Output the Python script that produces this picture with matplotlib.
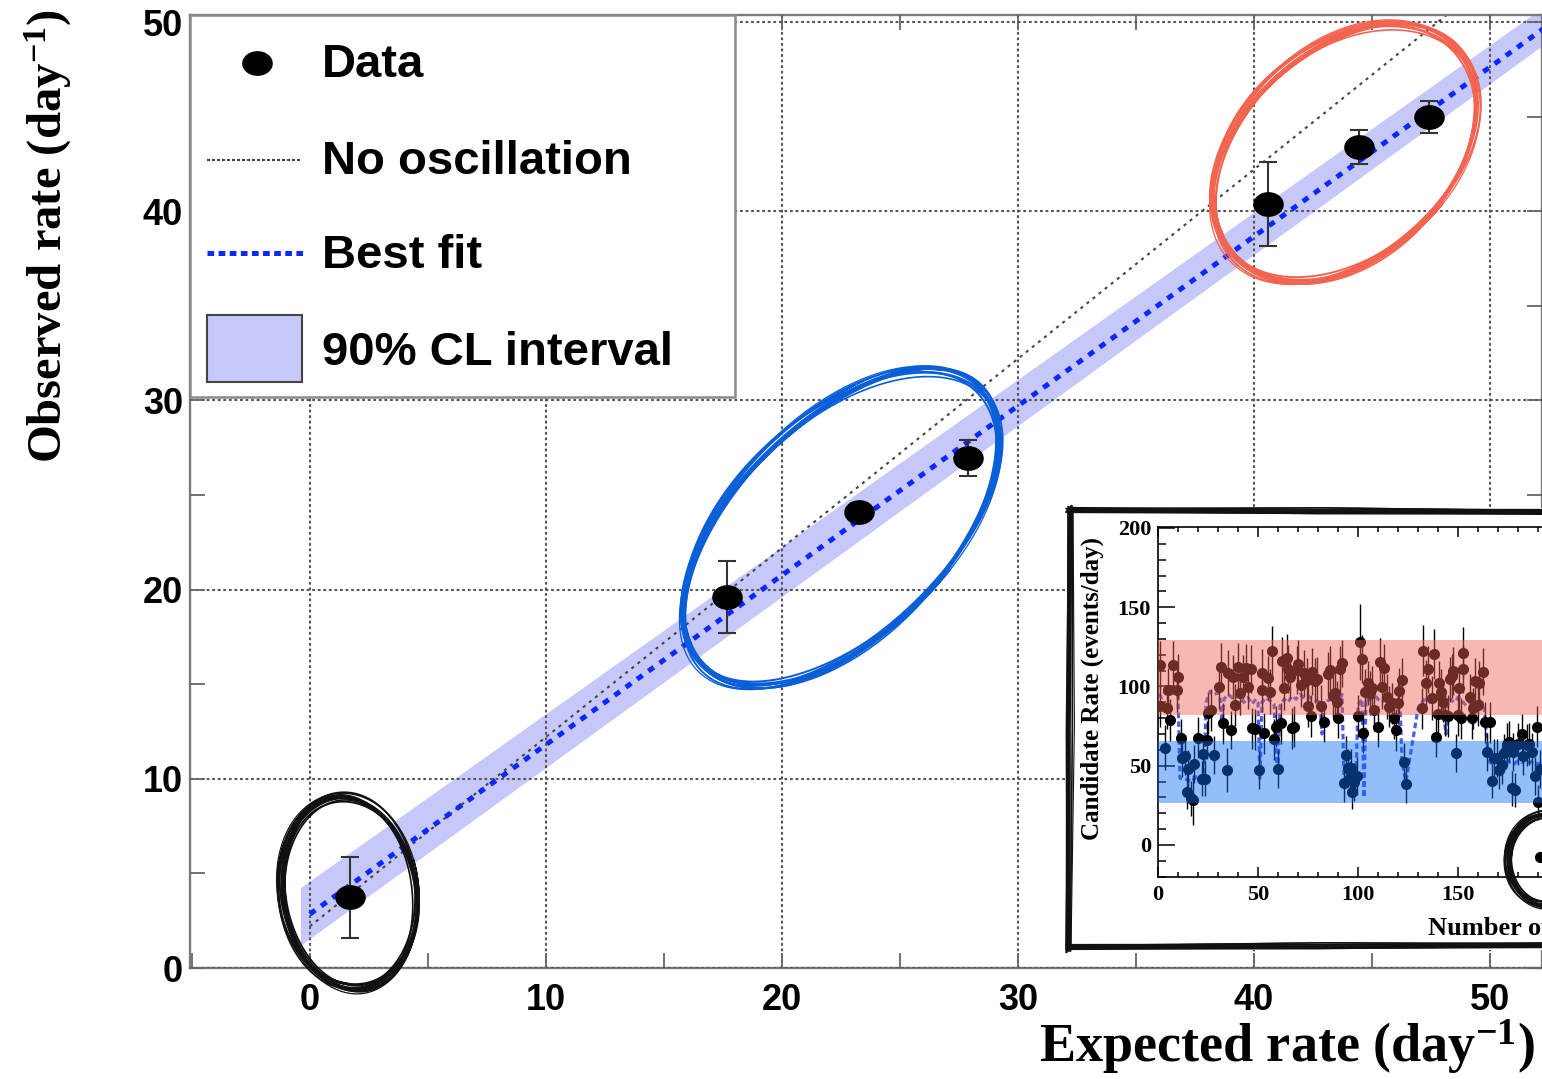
import numpy as np
import matplotlib
matplotlib.use("Agg")
import matplotlib.pyplot as plt
from matplotlib.lines import Line2D
from matplotlib.patches import Rectangle
from matplotlib.path import Path
from matplotlib.ticker import MultipleLocator

plt.rcParams["font.family"] = ["Liberation Sans", "DejaVu Sans"]
plt.rcParams["font.weight"] = "bold"
plt.rcParams["mathtext.fontset"] = "custom"
plt.rcParams["mathtext.rm"] = "Liberation Serif"
plt.rcParams["mathtext.bf"] = "Liberation Serif:bold"
plt.rcParams["mathtext.it"] = "Liberation Serif:italic"
plt.rcParams["lines.scale_dashes"] = False

# ---------------- main panel: observed vs expected rate ----------------
expected_rate = [1.69, 17.67, 23.26, 27.88, 40.59, 44.45, 47.42]
observed_rate = [3.75, 19.61, 24.10, 26.96, 40.38, 43.39, 44.98]
observed_err = [2.14, 1.90, 0.50, 0.95, 2.20, 0.90, 0.85]

noosc_x = [0.0, 52.5]
noosc_y = [2.2, 54.7]
fit_x = [0.0, 52.5]
fit_y = [2.85, 49.85]
band_x = [-0.4, 52.5]
band_lo = [1.2, 49.0]
band_hi = [4.25, 51.0]

main_xticks = [0, 10, 20, 30, 40, 50]
main_yticks = [0, 10, 20, 30, 40, 50]
legend_labels = ["Data", "No oscillation", "Best fit", "90% CL interval"]

# ---------------- inset: daily candidate rate ----------------
inset_day = [
    1.0, 1.0, 3.5, 4.3, 5.0, 6.0, 7.3, 9.3, 10.2, 11.3,
    11.8, 13.5, 14.3, 15.2, 16.5, 17.3, 18.2, 20.2, 21.8, 22.3,
    23.5, 24.3, 25.2, 26.5, 28.2, 30.5, 31.3, 32.3, 34.3, 35.2,
    36.5, 37.3, 38.5, 40.2, 41.0, 42.7, 44.0, 45.2, 46.3, 46.8,
    48.5, 50.7, 51.8, 52.2, 53.2, 55.2, 56.0, 57.2, 58.2, 58.8,
    60.2, 61.3, 62.2, 63.2, 64.3, 65.2, 66.0, 67.2, 68.2, 69.3,
    70.2, 71.3, 73.2, 74.3, 75.2, 76.3, 77.2, 78.5, 79.3, 81.3,
    83.0, 84.8, 86.0, 87.3, 88.5, 89.3, 90.2, 91.0, 91.8, 93.2,
    93.8, 95.2, 96.0, 96.3, 97.2, 98.0, 99.3, 99.8, 101.0, 101.8,
    102.7, 103.5, 104.8, 106.0, 106.8, 108.2, 109.8, 111.0, 111.8, 113.2,
    114.3, 115.5, 116.8, 118.0, 118.8, 119.8, 120.7, 121.8, 123.0, 123.8,
    131.8, 132.7, 133.8, 134.8, 136.8, 137.8, 138.8, 139.8, 140.7, 141.5,
    142.7, 143.5, 144.8, 146.0, 146.8, 147.7, 148.8, 150.2, 150.7, 151.5,
    152.7, 152.7, 156.0, 156.8, 157.7, 158.5, 159.8, 160.5, 162.7, 163.5,
    164.7, 166.0, 166.8, 168.2, 169.3, 170.7, 171.8, 173.2, 174.7, 175.7,
    176.8, 177.7, 178.5, 179.8, 181.8, 182.7, 184.3, 185.5, 187.2, 188.5,
    189.3, 190.2, 191.0,
]
inset_rate = [
    113.6, 87.7, 61.4, 86.2, 97.8, 78.9, 113.6, 97.8, 106.2, 67.3,
    54.7, 56.4, 33.7, 48.0, 29.5, 28.4, 50.9, 67.7, 41.7, 57.2,
    41.7, 66.3, 83.1, 85.2, 56.8, 99.9, 112.5, 76.8, 47.3, 108.7,
    72.6, 105.8, 88.3, 112.5, 95.7, 105.8, 111.9, 99.9, 111.0, 73.6,
    73.0, 47.3, 108.7, 97.8, 70.5, 105.2, 96.8, 122.4, 66.7, 74.7,
    47.7, 76.8, 116.1, 98.9, 117.8, 111.1, 105.8, 73.6, 74.7, 110.4,
    114.2, 101.0, 108.3, 104.1, 87.7, 81.4, 109.4, 103.7, 104.8, 87.7,
    77.8, 107.7, 110.4, 94.0, 95.7, 90.4, 80.4, 110.8, 114.6, 39.3,
    56.8, 48.4, 42.1, 48.4, 33.7, 40.0, 43.6, 81.4, 128.3, 117.2,
    70.9, 96.8, 102.0, 95.7, 98.9, 85.2, 74.7, 115.7, 99.9, 111.5,
    93.6, 87.3, 89.4, 79.9, 72.6, 89.4, 97.4, 104.1, 52.6, 38.5,
    86.2, 122.6, 102.4, 110.8, 92.6, 120.5, 68.4, 82.5, 102.0, 96.8,
    90.4, 82.0, 81.4, 104.5, 106.6, 109.8, 58.3, 82.0, 98.9, 79.9,
    121.4, 111.1, 93.6, 79.9, 86.2, 103.7, 88.3, 102.0, 109.4, 77.4,
    58.5, 77.4, 40.6, 54.7, 54.7, 47.3, 50.5, 57.8, 63.7, 65.2,
    35.8, 58.5, 34.7, 63.7, 69.8, 56.4, 63.1, 63.7, 58.9, 43.8,
    74.7, 26.9, 48.0,
]
inset_err = [
    15, 13, 14, 13, 14, 13, 15, 14, 14, 12,
    12, 12, 11, 12, 11, 16, 12, 13, 11, 12,
    11, 12, 13, 13, 12, 14, 15, 13, 14, 14,
    12, 14, 13, 15, 14, 14, 15, 14, 15, 13,
    13, 12, 15, 14, 13, 14, 14, 16, 13, 13,
    12, 13, 15, 14, 15, 15, 14, 13, 13, 15,
    15, 14, 15, 14, 13, 13, 15, 14, 14, 13,
    13, 14, 15, 14, 14, 13, 13, 15, 15, 12,
    12, 12, 11, 12, 11, 12, 12, 13, 24, 15,
    13, 14, 14, 14, 14, 13, 13, 15, 14, 15,
    14, 13, 13, 13, 13, 13, 14, 14, 12, 12,
    13, 16, 14, 15, 14, 16, 13, 13, 14, 14,
    13, 13, 13, 14, 14, 15, 12, 13, 14, 13,
    16, 15, 14, 13, 13, 14, 13, 14, 15, 13,
    12, 13, 11, 12, 12, 12, 12, 12, 13, 13,
    11, 12, 11, 13, 13, 12, 13, 13, 12, 12,
    13, 11, 12,
]
flagged_day = [191.0]
flagged_rate = [-7.4]

exp_day = [0, 2, 4, 6, 8, 10, 11, 13, 15, 17, 19, 21, 23,
           24, 26, 28, 30, 31, 32, 33, 35, 37, 39, 41, 43, 45, 47, 49, 50,
           51, 52, 54, 56, 58, 59, 60, 61,
           63, 65, 67, 69, 71, 73, 75, 77, 79, 81, 82, 83, 85, 87, 89, 91, 92,
           93, 95, 97, 99, 100, 102, 103, 104,
           106, 108, 110, 112, 114, 116, 118, 120, 121, 122, 124,
           130, 132, 134, 136, 138, 140, 142, 144, 145, 146, 148, 150, 152, 154,
           156, 158, 160, 162, 163,
           165, 166, 168, 170, 172, 174, 176, 178, 180, 182, 184, 186, 188, 190, 192]
exp_rate = [95, 93, 97, 95, 96, 95, 42, 42, 41, 40, 43, 42, 42,
            90, 97, 95, 96, 94, 75, 92, 95, 93, 95, 92, 90, 93, 89, 92, 90,
            42, 90, 93, 91, 89, 55, 48, 88,
            92, 90, 94, 92, 95, 93, 94, 92, 91, 90, 70, 88, 91, 93, 90, 92, 95,
            42, 43, 40, 44, 88, 92, 30, 93,
            90, 95, 92, 90, 93, 90, 88, 91, 90, 52, 40,
            86, 90, 93, 90, 92, 94, 91, 70, 90, 92, 90, 93, 91, 88,
            90, 87, 92, 90, 88,
            58, 52, 51, 53, 50, 54, 52, 51, 53, 52, 54, 52, 53, 51, 52]

high_band = [82.0, 129.5]
low_band = [26.7, 65.7]
inset_xticks = [0, 50, 100, 150]
inset_yticks = [0, 50, 100, 150, 200]

# ---------------- figure ----------------
W, H = 1542, 1079
fig = plt.figure(figsize=(W / 100, H / 100), dpi=100)
fig.patch.set_facecolor("white")


def fx(px):
    return px / W


def fy(py):
    return 1 - py / H


BAND_COLOR = "#c6c8fa"
FIT_COLOR = "#0a28ff"
GRID_COLOR = "#555555"
SPINE_COLOR = "#7a7a7a"

ax = fig.add_axes([fx(190), fy(968), 1352 / W, 953 / H], zorder=0)
ax.set_xlim(-5.08, 52.21)
ax.set_ylim(0, 50.37)

ax.fill_between(band_x, band_lo, band_hi, color=BAND_COLOR, lw=0, zorder=1)
ax.plot(noosc_x, noosc_y, color="#444444", lw=1.5, dashes=(2.2, 3.4), zorder=2)
ax.plot(fit_x, fit_y, color=FIT_COLOR, lw=3.6, dashes=(4.8, 5.2), zorder=3)

t = np.linspace(0, 2 * np.pi, 64)
oval = Path(np.column_stack([1.25 * np.cos(t), np.sin(t)]), closed=True)
ax.errorbar(expected_rate, observed_rate, yerr=observed_err, fmt="none",
            ecolor="#333333", elinewidth=1.5, capsize=6.5, capthick=1.5, zorder=4)
ax.plot(expected_rate, observed_rate, ls="none", marker=oval, ms=21,
        color="black", zorder=5)

ax.set_xticks(main_xticks)
ax.set_yticks(main_yticks)
ax.xaxis.set_minor_locator(MultipleLocator(5))
ax.yaxis.set_minor_locator(MultipleLocator(5))
ax.grid(True, which="major", color=GRID_COLOR, lw=1.5, linestyle=(0, (2.0, 2.0)))
ax.set_axisbelow(False)
ax.tick_params(which="both", direction="in", top=True, right=True,
               length=11, width=1.3, color="#666666", labelsize=26)
ax.tick_params(axis="x", pad=11)
ax.tick_params(axis="y", pad=5)
for sp in ax.spines.values():
    sp.set_color(SPINE_COLOR)
    sp.set_linewidth(1.7)

ax.set_xlabel(r"Expected rate (day$^{\mathbf{-1}}$)", family="Liberation Serif",
              fontsize=39, fontweight="bold")
ax.xaxis.set_label_coords(fx(1535), fy(1062), transform=fig.transFigure)
ax.xaxis.label.set_ha("right")
ax.xaxis.label.set_va("baseline")
ax.set_ylabel(r"Observed rate (day$^{\mathbf{-1}}$)", family="Liberation Serif",
              fontsize=35, fontweight="bold")
ax.yaxis.set_label_coords(fx(48), fy(236), transform=fig.transFigure)
ax.yaxis.label.set_ha("center")
ax.yaxis.label.set_va("center")

# ---------------- legend box ----------------
fig.add_artist(Rectangle((fx(190), fy(397)), fx(735) - fx(190), (397 - 15) / H,
                         transform=fig.transFigure, facecolor="white",
                         edgecolor="#8a8a8a", lw=1.8, zorder=1))
fig.add_artist(Line2D([fx(257)], [fy(63)], ls="none", marker=oval, ms=21,
                      color="black", transform=fig.transFigure, zorder=2))
fig.add_artist(Line2D([fx(207), fx(300)], [fy(160), fy(160)], color="#444444",
                      lw=1.5, dashes=(2.2, 1.4), transform=fig.transFigure, zorder=2))
fig.add_artist(Line2D([fx(207), fx(303)], [fy(253), fy(253)], color=FIT_COLOR,
                      lw=3.6, dashes=(4.8, 3.2), transform=fig.transFigure, zorder=2))
fig.add_artist(Rectangle((fx(207), fy(382)), fx(302) - fx(207), (382 - 315) / H,
                         transform=fig.transFigure, facecolor=BAND_COLOR,
                         edgecolor="#444444", lw=1.5, zorder=2))
for label, base in zip(legend_labels, [77, 174, 268, 365]):
    fig.text(fx(322), fy(base), label, fontsize=34, fontweight="bold",
             ha="left", va="baseline", zorder=3)


# ---------------- hand-drawn marks ----------------
def sketch_ellipse(cx, cy_top, a, b, ang, color, z, strokes, scale=1.0):
    cy = H - cy_top
    th = np.deg2rad(ang)
    for da, db, dth, ox, oy, t0, lw in strokes:
        tt = np.linspace(t0, t0 + 2 * np.pi + 0.35, 500)
        wob = 1 + 0.012 * np.sin(3 * tt + t0)
        aa = (a + da * scale) * wob
        bb = (b + db * scale) * wob
        th2 = th + np.deg2rad(dth)
        x = cx + ox + aa * np.cos(tt) * np.cos(th2) - bb * np.sin(tt) * np.sin(th2)
        y = cy + oy + aa * np.cos(tt) * np.sin(th2) + bb * np.sin(tt) * np.cos(th2)
        fig.add_artist(Line2D(x / W, y / H, transform=fig.transFigure, color=color,
                              lw=lw, zorder=z, solid_capstyle="round"))


STROKES = [(0, 0, 0, 0, 0, 0.4, 2.4), (2, -1.5, 0.8, 1, -1, 1.3, 1.8),
           (-2, 1.5, -0.7, -1, 1, 2.6, 1.8), (3.5, 1, 0.4, 0.5, 1.5, 3.9, 1.4),
           (-3, -2, -0.4, 1, 0.5, 5.2, 1.4), (1, 2.5, 1.2, -1.5, -0.5, 0.9, 1.2),
           (-1, -3, -1.0, 0.5, -1.5, 3.3, 1.2), (4, 3, 0.2, -0.5, 0.5, 4.6, 0.9)]

sketch_ellipse(349, 893, 96, 67, 98, "#111111", 12, STROKES, scale=1.2)
sketch_ellipse(841, 528, 196, 107, 45, "#0a5fd8", 12, STROKES)
sketch_ellipse(1345, 153, 152, 104, 43, "#f26450", 12, STROKES)

# ---------------- inset panel ----------------
fig.add_artist(Rectangle((fx(1068), fy(950)), fx(1570) - fx(1068), (950 - 508) / H,
                         transform=fig.transFigure, facecolor="white",
                         edgecolor="none", zorder=9))
frame_edges = [((1068, 510), (1570, 512)), ((1070, 508), (1068, 950)),
               ((1068, 947), (1570, 945))]
frame_offsets = [(0, 0, 2.6), (1.5, -2.0, 1.6), (-1.5, 2.0, 1.6),
                 (2.5, 1.0, 1.2), (-2.0, -1.5, 1.0), (3.0, -1.0, 0.8)]
for (x0, y0), (x1, y1) in frame_edges:
    for k, (ox, oy, lw) in enumerate(frame_offsets):
        xm = (x0 + x1) / 2 + (k - 2) * 0.8
        ym = (y0 + y1) / 2 + (2 - k) * 0.8
        xs = [x0 + ox, xm + ox, x1 + ox]
        ys = [y0 + oy, ym + oy, y1 + oy]
        fig.add_artist(Line2D([fx(v) for v in xs], [fy(v) for v in ys],
                              transform=fig.transFigure, color="#111111", lw=lw,
                              zorder=9.5))

ax2 = fig.add_axes([fx(1158), fy(877), 720 / W, 350 / H], zorder=10)
ax2.set_facecolor("white")
ax2.set_xlim(0, 360)
ax2.set_ylim(-20.2, 200.6)

ax2.plot(exp_day, exp_rate, color="#4a5cf2", lw=2.3, dashes=(4.0, 2.4), zorder=1.5)
ax2.errorbar(inset_day, inset_rate, yerr=inset_err, fmt="o", ms=7, color="black",
             ecolor="black", elinewidth=1.0, capsize=0, zorder=2)
ax2.plot(flagged_day, flagged_rate, "o", ms=7, color="black", zorder=2)
ax2.axhspan(high_band[0], high_band[1], color="#f06254", alpha=0.45, lw=0, zorder=3)
ax2.axhspan(low_band[0], low_band[1], color="#106ff4", alpha=0.45, lw=0, zorder=3)

ax2.set_xticks(inset_xticks)
ax2.set_yticks(inset_yticks)
ax2.xaxis.set_minor_locator(MultipleLocator(10))
ax2.yaxis.set_minor_locator(MultipleLocator(10))
ax2.tick_params(which="both", direction="in", top=True, right=True, width=1.1,
                color="black", labelsize=16, labelfontfamily="Liberation Serif")
ax2.tick_params(axis="y", which="major", length=12, pad=5)
ax2.tick_params(axis="y", which="minor", length=6)
ax2.tick_params(axis="x", which="major", length=7, pad=6)
ax2.tick_params(axis="x", which="minor", length=3.6)
for sp in ax2.spines.values():
    sp.set_color("black")
    sp.set_linewidth(1.2)

ax2.set_xlabel("Number of days", family="Liberation Serif", fontsize=19,
               fontweight="bold")
ax2.xaxis.set_label_coords(fx(1428), fy(928), transform=fig.transFigure)
ax2.xaxis.label.set_ha("left")
ax2.xaxis.label.set_va("center")
ax2.set_ylabel("Candidate Rate (events/day)", family="Liberation Serif",
               fontsize=18, fontweight="bold")
ax2.yaxis.set_label_coords(fx(1092), fy(689), transform=fig.transFigure)
ax2.yaxis.label.set_ha("center")
ax2.yaxis.label.set_va("center")

sketch_ellipse(1546, 860, 45, 38, 90, "#111111", 13, STROKES)

fig.savefig("out.png", dpi=100)
